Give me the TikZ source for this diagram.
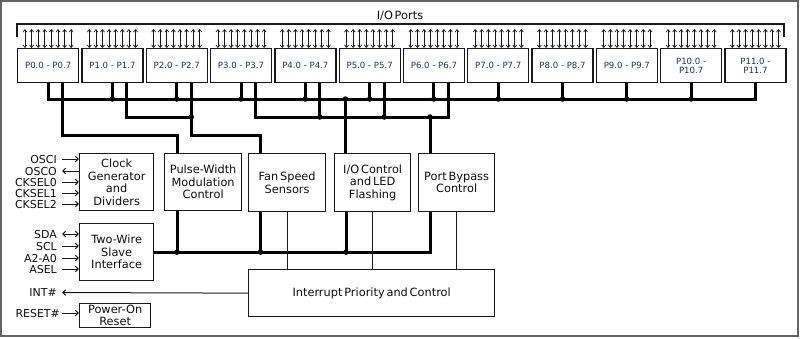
\documentclass[tikz,border=0pt]{standalone}
\usepackage{fontspec}
\setmainfont{DejaVu Sans}[WordSpace=0.5]
\newfontfamily\portfont{DejaVu Sans}
\usetikzlibrary{arrows.meta,calc}
\definecolor{portblue}{RGB}{30,50,105}
\definecolor{framegray}{RGB}{100,100,100}
\definecolor{boxc}{RGB}{25,25,25}
\definecolor{txt}{RGB}{15,15,15}
\begin{document}
\begin{tikzpicture}[x=1bp,y=-1bp,
  box/.style={draw=boxc, line width=1.3bp, fill=white, inner sep=0pt, align=center, text=txt,
    font=\fontsize{11.4}{12.5}\selectfont, anchor=north west},
  portbox/.style={draw=boxc, line width=1.3bp, minimum width=61bp, minimum height=34bp, inner sep=0pt,
    align=center, font=\portfont\fontsize{8.6}{9.5}\selectfont, text=portblue, anchor=north west},
  bus/.style={draw=black, line width=3bp},
  thinline/.style={draw=boxc, line width=0.9bp},
  jdot/.style={circle, fill=black, inner sep=0pt, minimum size=5.5bp},
  sig/.style={font=\fontsize{11}{11}\selectfont, anchor=east, inner sep=0pt, text height=8bp, text depth=0pt, text=txt},
  sarrow/.style={draw=boxc, line width=1bp, -{Straight Barb[length=3bp,width=5.5bp]}},
  darrow/.style={draw=boxc, line width=1bp, {Straight Barb[length=3bp,width=5.5bp]}-{Straight Barb[length=3bp,width=5.5bp]}},
  parrow/.style={draw=boxc, line width=0.7bp, {Straight Barb[length=2.5bp,width=4bp]}-{Straight Barb[length=2.5bp,width=4bp]}}
]
\useasboundingbox (0,0) rectangle (800,338);
\draw[framegray, line width=1.5bp] (1,1) rectangle (798,336);

% title and bracket
\node[font=\fontsize{11.4}{12}\selectfont, text=txt, inner sep=0pt] (iotitle) at (400,16) {I/O Ports};
\coordinate (brl) at (17,37);
\coordinate (brr) at (784,37);
\draw[boxc, line width=1.3bp] (brl) -- (17,24) -- (784,24) -- (brr);

% port boxes
\foreach \i in {0,...,11} {
  \pgfmathsetmacro\px{17+64.3*\i}
  \ifnum\i<10
    \node[portbox] (p\i) at (\px,48) {P\i.0 - P\i.7};
  \else
    \node[portbox] (p\i) at (\px,48) {P\i.0 -\\P\i.7};
  \fi
  \foreach \k in {0,...,7} {
    \draw[parrow] ([xshift={(8+6.6*\k)*1bp}]p\i.north west) -- ++(0,-19);
  }
}

% middle boxes
\node[box, minimum width=74bp, minimum height=57bp] (clk) at (79,153) {Clock\\Generator\\and\\Dividers};
\node[box, minimum width=77bp, minimum height=57bp] (pwm) at (164,153) {Pulse-Width\\Modulation\\Control};
\node[box, minimum width=77bp, minimum height=58bp] (fan) at (248,153) {Fan Speed\\Sensors};
\node[box, minimum width=76bp, minimum height=58bp] (ioc) at (334,153) {I/O Control\\and LED\\Flashing};
\node[box, minimum width=76bp, minimum height=58bp] (pbc) at (418,153) {Port Bypass\\Control};
\node[box, minimum width=74bp, minimum height=57bp] (tw) at (79,223) {Two-Wire\\Slave\\Interface};
\node[box, minimum width=246bp, minimum height=47bp] (intr) at (248,269) {Interrupt Priority and Control};
\node[box, minimum width=71bp, minimum height=24bp, font=\fontsize{11.4}{12}\selectfont] (por) at (79,303) {Power-On\\Reset};

% bus levels
\coordinate (b1) at (0,99);
\coordinate (b2) at (0,117);
\coordinate (b3) at (0,135);

% secondary taps on port boxes
\foreach \i in {0,...,6} {
  \coordinate (q\i) at ([xshift=14.5bp]p\i.south);
}
% tap points on middle boxes
\coordinate (pwmt) at ($(pwm.north west)+(13,0)$);
\coordinate (pwmb) at ($(pwm.south west)+(13,0)$);
\coordinate (fant) at ($(fan.north west)+(12.5,0)$);
\coordinate (fanb) at ($(fan.south west)+(12.5,0)$);
\coordinate (iot) at ($(ioc.north west)+(11.5,0)$);
\coordinate (iob) at ($(ioc.south west)+(12,0)$);
\coordinate (pbt) at ($(pbc.north west)+(12,0)$);
\coordinate (pbb) at ($(pbc.south west)+(12,0)$);

% bus 1
\draw[bus] (p0.south) -- (p0.south |- b1) -- (p11.south |- b1) -- (p11.south);
\foreach \i in {1,...,10} {
  \draw[bus] (p\i.south) -- (p\i.south |- b1);
  \node[jdot] at (p\i.south |- b1) {};
}
% P0 -> PWM
\draw[bus] (q0) |- (pwmt |- b3) -- (pwmt);
% P1 -> P2 tap
\draw[bus] (q1) |- (q2 |- b2);
\node[jdot] at (q2 |- b2) {};
% P2 -> Fan
\draw[bus] (q2) |- (fant |- b3) -- (fant);
% bus 2 (P3..P6)
\draw[bus] (q3) |- (q6 |- b2) -- (q6);
\node[jdot] at (q4 |- b2) {};
\node[jdot] at (q5 |- b2) {};
\draw[bus] (q4) -- (q4 |- b2);
\draw[bus] (q5) -- (q5 |- b2);
% drops to I/O control and port bypass
\draw[bus] (iot |- b1) -- (iot);
\node[jdot] at (iot |- b1) {};
\draw[bus] (pbt |- b2) -- (pbt);
\node[jdot] at (pbt |- b2) {};

% bus 3 (lower)
\draw[bus] (tw.east) -- (pbb |- tw.east) -- (pbb);
\foreach \c in {pwmb,fanb,iob} {
  \draw[bus] (\c) -- (\c |- tw.east);
  \node[jdot] at (\c |- tw.east) {};
}

% thin lines to interrupt
\draw[thinline] (fan.south) -- (fan.south |- intr.north);
\draw[thinline] (ioc.south) -- (ioc.south |- intr.north);
\draw[thinline] (pbc.south) -- (pbc.south |- intr.north);

% left signals
\node[sig] (osci) at (57,159) {OSCI};
\node[sig] (osco) at (57,171) {OSCO};
\node[sig] (ck0) at (57,182) {CKSEL0};
\node[sig] (ck1) at (57,193) {CKSEL1};
\node[sig] (ck2) at (57,204) {CKSEL2};
\draw[sarrow] ([xshift=5bp]osci.east) -- (clk.west |- osci.east);
\draw[sarrow] (clk.west |- osco.east) -- ([xshift=5bp]osco.east);
\draw[sarrow] ([xshift=5bp]ck0.east) -- (clk.west |- ck0.east);
\draw[sarrow] ([xshift=5bp]ck1.east) -- (clk.west |- ck1.east);
\draw[sarrow] ([xshift=5bp]ck2.east) -- (clk.west |- ck2.east);

\node[sig] (sda) at (57,234) {SDA};
\node[sig] (scl) at (57,246) {SCL};
\node[sig] (addr) at (57,258) {A2-A0};
\node[sig] (asel) at (57,269) {ASEL};
\draw[darrow] ([xshift=5bp]sda.east) -- (tw.west |- sda.east);
\draw[sarrow] ([xshift=5bp]scl.east) -- (tw.west |- scl.east);
\draw[sarrow] ([xshift=5bp]addr.east) -- (tw.west |- addr.east);
\draw[sarrow] ([xshift=5bp]asel.east) -- (tw.west |- asel.east);

\node[sig] (intl) at (57,292.5) {INT\#};
\draw[sarrow] (intr.west) -- ([xshift=5bp]intl.east);

\node[sig] (rst) at (60,313) {RESET\#};
\draw[sarrow] ([xshift=1.5bp]rst.east) -- (por.west |- rst.east);
\end{tikzpicture}
\end{document}
